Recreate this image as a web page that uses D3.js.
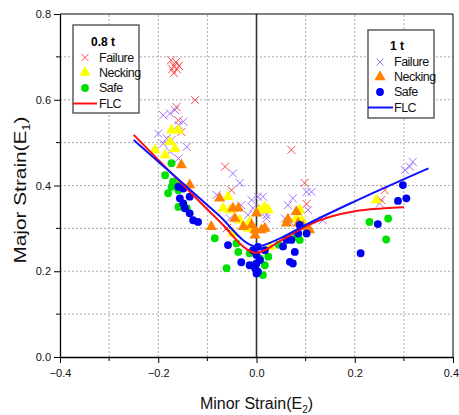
<!DOCTYPE html>
<html><head><meta charset="utf-8">
<script src="https://cdn.jsdelivr.net/npm/d3@7"></script>
<style>body{margin:0;background:#fff}svg{display:block}text{font-family:"Liberation Sans",Arial,sans-serif}</style>
</head><body><div id="chart"></div>
<script>
const xTicks=[-0.4,-0.2,0.0,0.2,0.4];
const yTicks=[0.0,0.2,0.4,0.6,0.8];
const failure08=[[-0.174,0.692],[-0.164,0.688],[-0.168,0.679],[-0.158,0.679],[-0.172,0.671],[-0.162,0.671],[-0.168,0.662],[-0.125,0.599],[-0.163,0.583],[-0.159,0.552],[-0.153,0.525],[-0.064,0.444],[-0.051,0.389],[-0.060,0.301],[0.071,0.483],[0.098,0.406],[0.102,0.357],[0.261,0.389],[0.254,0.366]];
const failure1=[[-0.166,0.576],[-0.176,0.568],[-0.190,0.564],[-0.149,0.549],[-0.159,0.541],[-0.200,0.521],[-0.183,0.510],[-0.173,0.506],[-0.190,0.498],[-0.142,0.490],[-0.176,0.479],[-0.159,0.463],[-0.048,0.428],[-0.034,0.406],[-0.081,0.378],[-0.010,0.366],[0.003,0.374],[0.013,0.374],[-0.007,0.347],[0.010,0.347],[0.020,0.331],[-0.017,0.331],[-0.031,0.354],[-0.054,0.323],[0.074,0.370],[0.064,0.354],[0.058,0.323],[0.068,0.315],[0.102,0.385],[0.112,0.385],[0.105,0.343],[0.017,0.339],[0.020,0.323],[0.135,0.319],[0.251,0.358],[0.302,0.436],[0.312,0.444],[0.318,0.455]];
const necking08=[[-0.173,0.529],[-0.159,0.529],[-0.176,0.502],[-0.166,0.486],[-0.186,0.471],[-0.207,0.483],[-0.058,0.374],[-0.068,0.347],[-0.054,0.343],[-0.034,0.319],[-0.014,0.315],[-0.017,0.300],[-0.048,0.288],[0.007,0.343],[0.017,0.350],[0.024,0.343],[0.088,0.343],[0.092,0.319],[0.081,0.323],[0.027,0.257],[0.244,0.366]];
const necking1=[[-0.153,0.448],[-0.136,0.401],[-0.075,0.370],[-0.048,0.347],[-0.037,0.347],[-0.092,0.304],[-0.044,0.323],[-0.027,0.304],[-0.010,0.308],[-0.003,0.296],[0.010,0.296],[0.017,0.300],[0.000,0.335],[-0.003,0.284],[0.061,0.312],[0.081,0.339],[0.095,0.304],[0.108,0.296],[0.085,0.312],[0.064,0.321]];
const safe08=[[-0.173,0.452],[-0.186,0.424],[-0.170,0.409],[-0.163,0.401],[-0.173,0.397],[-0.159,0.389],[-0.180,0.382],[-0.159,0.350],[-0.142,0.347],[-0.085,0.277],[-0.041,0.265],[-0.037,0.245],[-0.061,0.207],[-0.014,0.242],[0.007,0.230],[0.017,0.214],[-0.007,0.214],[0.024,0.234],[0.045,0.262],[0.081,0.280],[0.088,0.273],[0.230,0.315],[0.268,0.323],[0.264,0.274],[0.013,0.191]];
const safe1=[[-0.159,0.397],[-0.149,0.393],[-0.136,0.374],[-0.156,0.370],[-0.149,0.358],[-0.146,0.347],[-0.136,0.335],[-0.129,0.319],[-0.119,0.315],[-0.058,0.261],[-0.031,0.221],[-0.014,0.214],[0.000,0.218],[0.000,0.238],[-0.007,0.249],[0.007,0.226],[-0.003,0.207],[0.003,0.199],[0.003,0.257],[0.017,0.249],[0.054,0.258],[0.061,0.273],[0.071,0.273],[0.078,0.245],[0.068,0.222],[0.074,0.218],[0.088,0.308],[0.102,0.288],[0.085,0.288],[0.247,0.310],[0.212,0.242],[0.288,0.364],[0.305,0.370],[0.298,0.401],[0.000,0.195]];
const flc08=[[-0.25,0.518],[-0.15,0.402],[-0.08,0.322],[0.0,0.243],[0.05,0.272],[0.1,0.305],[0.15,0.327],[0.2,0.340],[0.25,0.346],[0.3,0.349]];
const flc1=[[-0.25,0.506],[-0.15,0.405],[-0.08,0.334],[0.0,0.258],[0.05,0.278],[0.1,0.308],[0.2,0.363],[0.35,0.44]];

const W=459,H=415,m={l:60,r:6,t:14,b:58};
const svg=d3.select("#chart").append("svg").attr("width",W).attr("height",H);
const x=d3.scaleLinear().domain([-0.4,0.4]).range([m.l,W-m.r]);
const y=d3.scaleLinear().domain([0,0.8]).range([H-m.b,m.t]);
const C={red:"#ff4a4a",purple:"#a070ff",yellow:"#ffff00",orange:"#ff8000",green:"#00e000",blue:"#0000f0"};

// grid
const gridV=d3.range(-0.3,0.31,0.1).filter(v=>Math.abs(v)>1e-6);
const gridH=d3.range(0.1,0.71,0.1);
const g=svg.append("g").attr("stroke","#a8a8a8").attr("stroke-width",1).attr("stroke-dasharray","2,2");
g.selectAll("line.v").data(gridV).join("line").attr("x1",d=>x(d)).attr("x2",d=>x(d)).attr("y1",y(0)).attr("y2",y(0.8));
g.selectAll("line.h").data(gridH).join("line").attr("x1",x(-0.4)).attr("x2",x(0.4)).attr("y1",d=>y(d)).attr("y2",d=>y(d));

// zero line
svg.append("line").attr("x1",x(0)).attr("x2",x(0)).attr("y1",y(0)).attr("y2",y(0.8)).attr("stroke","#333").attr("stroke-width",1.6);

// frame top/right
svg.append("line").attr("x1",x(-0.4)).attr("x2",x(0.4)).attr("y1",y(0.8)).attr("y2",y(0.8)).attr("stroke","#000");
svg.append("line").attr("x1",x(0.4)).attr("x2",x(0.4)).attr("y1",y(0)).attr("y2",y(0.8)).attr("stroke","#000");

// axes
const xa=svg.append("g").attr("transform",`translate(0,${y(0)})`).call(d3.axisBottom(x).tickValues(xTicks).tickFormat(d3.format(".1f")).tickSize(6).tickSizeOuter(0));
xa.append("g").selectAll("line").data([-0.3,-0.1,0.1,0.3]).join("line").attr("x1",d=>x(d)).attr("x2",d=>x(d)).attr("y1",0).attr("y2",4).attr("stroke","#000");
const ya=svg.append("g").attr("transform",`translate(${x(-0.4)},0)`).call(d3.axisLeft(y).tickValues(yTicks).tickFormat(d3.format(".1f")).tickSize(6).tickSizeOuter(0));
ya.append("g").selectAll("line").data([0.1,0.3,0.5,0.7]).join("line").attr("y1",d=>y(d)).attr("y2",d=>y(d)).attr("x1",0).attr("x2",-4).attr("stroke","#000");
svg.selectAll(".tick text").attr("font-size",11).attr("font-family","Liberation Sans, Arial, sans-serif").attr("fill","#111");
svg.selectAll(".domain").attr("stroke","#000").attr("stroke-width",1.3);
xa.selectAll(".tick text").attr("dy","1.0em");
xa.selectAll(".tick").filter(d=>d===0.4).select("text").attr("text-anchor","end").attr("x",5.5);

// axis titles
const xt=svg.append("text").attr("x",x(0)).attr("y",409).attr("text-anchor","middle").attr("font-size",16).attr("fill","#111");
xt.append("tspan").text("Minor Strain(E");xt.append("tspan").attr("font-size",10).attr("dy",4).text("2");xt.append("tspan").attr("dy",-4).text(")");
const yt=svg.append("text").attr("transform",`translate(26,190) rotate(-90) scale(1.3,1)`).attr("text-anchor","middle").attr("font-size",16).attr("fill","#111");
yt.append("tspan").text("Major Strain(E");yt.append("tspan").attr("font-size",10).attr("dy",4).text("1");yt.append("tspan").attr("dy",-4).text(")");

// marks
const cross=(s)=>`M${-s},${-s}L${s},${s}M${-s},${s}L${s},${-s}`;
const tri=d3.symbol().type(d3.symbolTriangle).size(55)();
const circ=d3.symbol().type(d3.symbolCircle).size(48)();
function crosses(data,col){svg.append("g").selectAll("path").data(data).join("path").attr("d",cross(4)).attr("transform",d=>`translate(${x(d[0])},${y(d[1])})`).attr("stroke",col).attr("stroke-width",1).attr("fill","none");}
function syms(data,col,p){svg.append("g").selectAll("path").data(data).join("path").attr("d",p).attr("transform",d=>`translate(${x(d[0])},${y(d[1])})`).attr("fill",col);}
crosses(failure08,C.red);
crosses(failure1,C.purple);
syms(necking08,C.yellow,tri);
syms(necking1,C.orange,tri);
syms(safe08,C.green,circ);
syms(safe1,C.blue,circ);

const line=d3.line().x(d=>x(d[0])).y(d=>y(d[1])).curve(d3.curveMonotoneX);
svg.append("path").datum(flc08).attr("d",line).attr("fill","none").attr("stroke","#ff1010").attr("stroke-width",2);
svg.append("path").datum(flc1).attr("d",line).attr("fill","none").attr("stroke","#1010ff").attr("stroke-width",2);

// legends
function legend(bx,by,bw,bh,title,tx,sx,txx,ly,cols,lx1,lx2){
  const L=svg.append("g");
  L.append("rect").attr("x",bx).attr("y",by).attr("width",bw).attr("height",bh).attr("fill","#fff").attr("stroke","#444").attr("stroke-width",1.3);
  L.append("text").attr("x",tx).attr("y",ly[0]).attr("text-anchor","middle").attr("font-size",12).attr("font-weight","bold").text(title);
  const labels=["Failure","Necking","Safe","FLC"];
  labels.forEach((t,i)=>L.append("text").attr("x",txx).attr("y",ly[i+1]).attr("font-size",12.5).attr("letter-spacing","-0.5px").attr("fill","#111").text(t));
  L.append("path").attr("d",cross(3.5)).attr("transform",`translate(${sx},${ly[1]-4})`).attr("stroke",cols[0]).attr("fill","none");
  L.append("path").attr("d",tri).attr("transform",`translate(${sx},${ly[2]-4})`).attr("fill",cols[1]);
  L.append("path").attr("d",circ).attr("transform",`translate(${sx},${ly[3]-4})`).attr("fill",cols[2]);
  L.append("line").attr("x1",lx1).attr("x2",lx2).attr("y1",ly[4]-4).attr("y2",ly[4]-4).attr("stroke",cols[3]).attr("stroke-width",2);
}
legend(73,25,66,88,"0.8 t",103,85,99,[46,61.5,76.5,92,107.5],[C.red,C.yellow,C.green,"#ff1010"],73,97);
legend(368,30,66,88,"1 t",397,380,394,[49.5,66,81,96,111.5],[C.purple,C.orange,C.blue,"#1010ff"],368,393);
</script></body></html>
